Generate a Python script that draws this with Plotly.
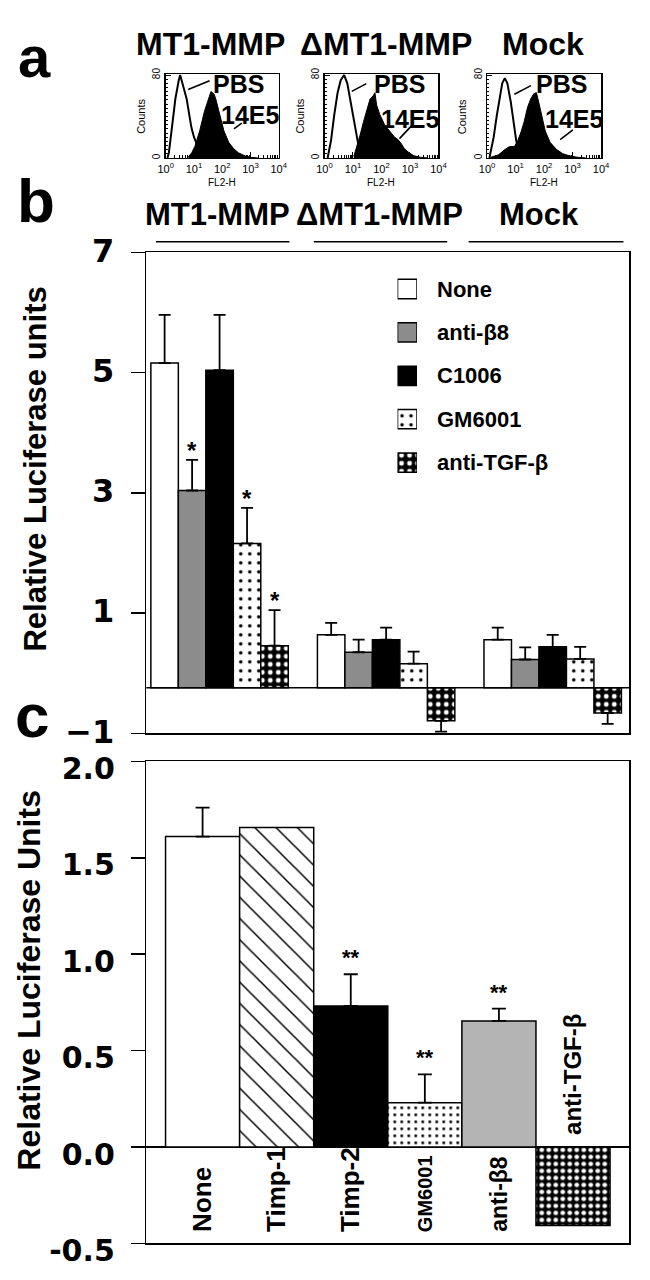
import numpy as np
import plotly.graph_objects as go

W, H = 650, 1280
def PX(x):
    return x / W
def PY(y):
    return 1 - y / H

SANS = "Liberation Sans, Arial, sans-serif"
WIDE = "DejaVu Sans, Verdana, sans-serif"

# ---------------- data: panel a (flow cytometry, log10 FL2-H vs counts) ----------------
HIST_TITLES = ["MT1-MMP", "ΔMT1-MMP", "Mock"]
H1_PBS_X = [0.06, 0.11, 0.23, 0.34, 0.46, 0.51, 0.57, 0.66, 0.74, 0.83, 0.91, 1.0, 1.09, 1.2, 1.3]
H1_PBS_Y = [0, 5, 32, 57, 75, 80, 74, 66, 57, 42, 29, 20, 14, 5, 0]
H1_AB_X = [0.80, 0.92, 1.03, 1.2, 1.37, 1.54, 1.60, 1.66, 1.72, 1.77, 1.91, 2.06, 2.23, 2.4, 2.57, 2.8, 3.03, 3.26]
H1_AB_Y = [1, 5, 11, 26, 45, 60, 64, 63, 61, 57, 42, 26, 15, 9, 5, 2, 0.5, 0]
H2_PBS_X = [0.11, 0.23, 0.34, 0.46, 0.57, 0.69, 0.8, 0.91, 1.03, 1.14, 1.2, 1.31]
H2_PBS_Y = [0, 17, 41, 63, 75, 80, 72, 54, 35, 20, 11, 1]
H2_AB_X = [1.03, 1.14, 1.26, 1.37, 1.49, 1.6, 1.71, 1.77, 1.83, 1.94, 2.11, 2.29, 2.46, 2.57, 2.69, 2.8, 2.97, 3.14, 3.37, 3.6]
H2_AB_Y = [1.5, 11, 23, 35, 48, 57, 60, 63, 51, 42, 32, 26, 20, 18, 14, 9, 5, 2, 0.6, 0]
H3_PBS_X = [0.08, 0.23, 0.34, 0.45, 0.53, 0.62, 0.71, 0.83, 0.94, 1.02, 1.1, 1.19]
H3_PBS_Y = [0, 20, 41, 60, 72, 77, 72, 54, 32, 17, 8, 1.5]
H3_AB_X = [0.11, 0.4, 0.62, 0.79, 0.96, 1.08, 1.19, 1.3, 1.42, 1.53, 1.64, 1.73, 1.81, 1.93, 2.04, 2.21, 2.44, 2.66, 2.89, 3.17, 3.46]
H3_AB_Y = [0.5, 3, 8, 11, 11, 17, 25, 35, 49, 57, 62, 63, 54, 38, 26, 15, 8, 4, 2, 0.6, 0]
HIST_XTICKS = [0, 1, 2, 3, 4]
HIST_XTICKTEXT = ["10<sup>0</sup>", "10<sup>1</sup>", "10<sup>2</sup>", "10<sup>3</sup>", "10<sup>4</sup>"]
HIST_YTICKS = [0, 80]

# ---------------- data: panel b ----------------
GROUPS_B = ["MT1-MMP", "ΔMT1-MMP", "Mock"]
TREAT_B = ["None", "anti-β8", "C1006", "GM6001", "anti-TGF-β"]
B_NONE = [5.16, 0.64, 0.56]
B_BETA8 = [3.04, 0.35, 0.23]
B_C1006 = [5.04, 0.56, 0.44]
B_GM6001 = [2.16, 0.16, 0.24]
B_TGF = [0.46, -0.79, -0.66]
B_NONE_ERR = [5.96, 0.84, 0.76]
B_BETA8_ERR = [3.55, 0.56, 0.43]
B_C1006_ERR = [5.96, 0.76, 0.64]
B_GM6001_ERR = [2.75, 0.36, 0.44]
B_TGF_ERR = [1.05, -0.97, -0.84]
B_STAR = [[False, False, False], [True, False, False], [False, False, False],
          [True, False, False], [True, False, False]]
B_BASELINE = -0.24
B_YTICKS = [7, 5, 3, 1, -1]

# ---------------- data: panel c ----------------
C_CATS = ["None", "Timp-1", "Timp-2", "GM6001", "anti-β8", "anti-TGF-β"]
C_VALS = [1.61, 1.657, 0.732, 0.23, 0.654, -0.407]
C_ERR = [1.76, None, 0.896, 0.377, 0.718, None]
C_STARS = ["", "", "**", "**", "**", ""]
C_YTICKS = [2.0, 1.5, 1.0, 0.5, 0.0, -0.5]

# ---------------- styles ----------------
B_STYLE = [
    dict(color="white", shape="", fg="black", bg="white", size=8, sol=0.2),
    dict(color="#8c8c8c", shape="", fg="black", bg="#8c8c8c", size=8, sol=0.2),
    dict(color="black", shape="", fg="black", bg="black", size=8, sol=0.2),
    dict(color="white", shape=".", fg="black", bg="white", size=9, sol=0.12),
    dict(color="black", shape=".", fg="white", bg="black", size=8, sol=0.3),
]
C_STYLE = [
    dict(color="white", shape="", fg="black", bg="white", size=8, sol=0.2),
    dict(color="white", shape="\\", fg="black", bg="white", size=15, sol=0.1),
    dict(color="black", shape="", fg="black", bg="black", size=8, sol=0.2),
    dict(color="white", shape=".", fg="black", bg="white", size=7, sol=0.13),
    dict(color="#b4b4b4", shape="", fg="black", bg="#b4b4b4", size=8, sol=0.2),
    dict(color="black", shape=".", fg="white", bg="black", size=7, sol=0.35),
]
C_LABEL_SIZE = [26, 26, 26, 20, 23, 24]


def bar_marker(st):
    return dict(color=st["color"], line=dict(color="black", width=1.5),
                pattern=dict(shape=st["shape"], fgcolor=st["fg"], bgcolor=st["bg"],
                             size=st["size"], solidity=st["sol"], fillmode="replace"))


fig = go.Figure()

# ---------- panel a traces ----------
hists = [(H1_PBS_X, H1_PBS_Y, H1_AB_X, H1_AB_Y),
         (H2_PBS_X, H2_PBS_Y, H2_AB_X, H2_AB_Y),
         (H3_PBS_X, H3_PBS_Y, H3_AB_X, H3_AB_Y)]
for i, (px_, py_, ax_, ay_) in enumerate(hists):
    n = i + 3
    fig.add_trace(go.Scatter(x=ax_, y=ay_, mode="lines", fill="tozeroy", fillcolor="black",
                             line=dict(color="black", width=1), xaxis=f"x{n}", yaxis=f"y{n}",
                             showlegend=False, hoverinfo="skip"))
    fig.add_trace(go.Scatter(x=px_, y=py_, mode="lines",
                             line=dict(color="black", width=2), xaxis=f"x{n}", yaxis=f"y{n}",
                             showlegend=False, hoverinfo="skip"))

# ---------- panel b traces ----------
BW = 0.165
b_tops = [B_NONE, B_BETA8, B_C1006, B_GM6001, B_TGF]
b_errs = [B_NONE_ERR, B_BETA8_ERR, B_C1006_ERR, B_GM6001_ERR, B_TGF_ERR]
for k, name in enumerate(TREAT_B):
    tops = b_tops[k]
    ends = b_errs[k]
    xs = [g + (k - 2) * BW for g in range(len(GROUPS_B))]
    ys = [t - B_BASELINE for t in tops]
    plus = [max(e - t, 0) if t >= B_BASELINE else 0 for t, e in zip(tops, ends)]
    minus = [0 if t >= B_BASELINE else max(t - e, 0) for t, e in zip(tops, ends)]
    fig.add_trace(go.Bar(
        x=xs, y=ys, base=B_BASELINE, width=BW, name=name,
        marker=bar_marker(B_STYLE[k]),
        error_y=dict(type="data", symmetric=False, array=plus, arrayminus=minus,
                     color="black", thickness=1.8, width=6),
        xaxis="x", yaxis="y", showlegend=False, hoverinfo="skip"))
    # legend swatch (drawn on its own small axis so it can be full size)
    fig.add_trace(go.Bar(
        y=[k], x=[1], base=0, orientation="h", width=20 / 45, name=name,
        marker=bar_marker(B_STYLE[k]),
        xaxis="x6", yaxis="y6", showlegend=False, hoverinfo="skip"))

# ---------- panel c traces ----------
for i, c in enumerate(C_CATS):
    kw = {}
    if C_ERR[i] is not None:
        kw["error_y"] = dict(type="data", symmetric=False, array=[C_ERR[i] - C_VALS[i]],
                             arrayminus=[0], color="black", thickness=1.8, width=7)
    fig.add_trace(go.Bar(
        x=[i], y=[C_VALS[i]], width=1.0, name=c, marker=bar_marker(C_STYLE[i]),
        xaxis="x2", yaxis="y2", showlegend=False, hoverinfo="skip", **kw))

annotations = []
shapes = []


def txt(x, y, s, size, bold=True, family=SANS, angle=0, xanchor="center", yanchor="middle",
        xref="paper", yref="paper", yshift=0):
    annotations.append(dict(x=x, y=y, text=s, xref=xref, yref=yref, showarrow=False,
                            textangle=angle, xanchor=xanchor, yanchor=yanchor, yshift=yshift,
                            font=dict(family=family, size=size, color="black",
                                      weight="bold" if bold else "normal")))


# panel letters
txt(PX(27), PY(1), "a", 58, yanchor="top")
txt(PX(29), PY(186), "b", 62)
txt(PX(25), PY(720), "c", 62)

# panel a titles and decorations
HIST_XD = [(162, 278), (325, 442), (492, 609)]
TITLE_A_X = [208, 388, 549]
PBS_POS = [(237, 65), (402, 65), (568, 65)]
AB_POS = [(249, 98), (413, 102), (581, 102)]
PBS_PTR = [((185, 71), (207, 62)), ((353, 73), (368, 65)), ((520, 76), (537, 67))]
AB_PTR = [((232, 112), (240, 106)), ((402, 122), (415, 108)), ((567, 123), (580, 113))]
for i in range(3):
    txt(PX(TITLE_A_X[i]), PY(24), HIST_TITLES[i], 32)
    txt(PX(PBS_POS[i][0]), PY(PBS_POS[i][1]), "PBS", 25)
    txt(PX(AB_POS[i][0]), PY(AB_POS[i][1]), "14E5", 25)
    x0, x1 = HIST_XD[i]
    txt(PX(x0 - 25), PY(99), "Counts", 11, bold=False, angle=-90)
    txt(PX((x0 + x1) / 2), PY(168), "FL2-H", 10, bold=False)
    for (p0, p1) in (PBS_PTR[i], AB_PTR[i]):
        shapes.append(dict(type="line", xref="paper", yref="paper", x0=PX(p0[0]), y0=PY(p0[1]),
                           x1=PX(p1[0]), y1=PY(p1[1]), line=dict(color="black", width=1.6)))

# panel b group labels and bars above
GROUP_LABEL_X = [215, 381, 545]
GROUP_LINE_X = [(152, 289), (314, 451), (473, 632)]
for i, g in enumerate(GROUPS_B):
    txt(PX(GROUP_LABEL_X[i]), PY(201), g, 31)
    shapes.append(dict(type="line", xref="paper", yref="paper", x0=PX(GROUP_LINE_X[i][0]),
                       x1=PX(GROUP_LINE_X[i][1]), y0=PY(229), y1=PY(229),
                       line=dict(color="black", width=1.5)))

# panel b baseline
shapes.append(dict(type="line", xref="x domain", yref="y", x0=0, x1=1, y0=B_BASELINE, y1=B_BASELINE,
                   line=dict(color="black", width=1.5)))

# panel b legend texts
for k, name in enumerate(TREAT_B):
    txt(PX(438), k, name, 22, xref="paper", yref="y6", xanchor="left")

# panel b stars
for k in range(len(TREAT_B)):
    for g in range(len(GROUPS_B)):
        if B_STAR[k][g]:
            txt(g + (k - 2) * BW, b_errs[k][g], "*", 24, xref="x", yref="y", yanchor="bottom", yshift=-6)

# panel c stars and category labels
for i, c in enumerate(C_CATS):
    if C_STARS[i]:
        txt(i, C_ERR[i], C_STARS[i], 22, xref="x2", yref="y2", yanchor="bottom", yshift=2)
    if C_VALS[i] >= 0:
        txt(i, -0.45, c, C_LABEL_SIZE[i], xref="x2", yref="y2", angle=-90, yanchor="bottom")
    else:
        txt(i, 0.05, c, C_LABEL_SIZE[i], xref="x2", yref="y2", angle=-90, yanchor="bottom")

# axis titles
txt(PX(28), PY(465), "Relative Luciferase units", 31, angle=-90)
txt(PX(22), PY(995), "Relative Luciferase Units", 32, angle=-90)

axis_common = dict(showgrid=False, zeroline=False, showline=True, linecolor="black", linewidth=1.5,
                   mirror=True)

layout = dict(
    width=W, height=H, margin=dict(l=0, r=0, t=0, b=0),
    paper_bgcolor="white", plot_bgcolor="white", barmode="overlay",
    font=dict(family=SANS, color="black"),
    showlegend=False,
    annotations=annotations, shapes=shapes,
    xaxis=dict(domain=[PX(142), PX(638)], range=[-0.44, 2.46], anchor="y", showticklabels=False,
               ticks="", **axis_common),
    yaxis=dict(domain=[PY(739), PY(240)], range=[-1, 7], anchor="x", tickmode="array",
               tickvals=B_YTICKS, ticks="outside", ticklen=14, tickwidth=1.5, tickcolor="black",
               ticklabelstandoff=10, ticklabelshift=-2,
               tickfont=dict(family=WIDE, size=32, weight="bold"), **axis_common),
    xaxis2=dict(domain=[PX(142), PX(638)], range=[-0.76, 5.76], anchor="y2", showticklabels=False,
                ticks="", **axis_common),
    yaxis2=dict(domain=[PY(1268), PY(768)], range=[-0.5, 2.0], anchor="x2", tickmode="array",
                tickvals=C_YTICKS, ticktext=[f"{v:.1f}" for v in C_YTICKS], ticks="outside",
                ticklen=14, tickwidth=1.5, tickcolor="black", ticklabelstandoff=10,
                ticklabelshift=7,
                tickfont=dict(family=WIDE, size=30, weight="bold"),
                showgrid=False, showline=True, linecolor="black", linewidth=1.5, mirror=True,
                zeroline=True, zerolinecolor="black", zerolinewidth=1.5),
    xaxis6=dict(domain=[PX(400), PX(420)], range=[0, 1], anchor="y6", visible=False),
    yaxis6=dict(domain=[PY(480.5), PY(255.5)], range=[4.5, -0.5], anchor="x6", visible=False),
)

minor_x = [float(np.log10(k * 10 ** n)) for n in range(4) for k in range(2, 10)]
for i in range(3):
    n = i + 3
    x0, x1 = HIST_XD[i]
    layout[f"xaxis{n}"] = dict(domain=[PX(x0), PX(x1)], range=[0, 4], anchor=f"y{n}",
                               tickmode="array", tickvals=HIST_XTICKS, ticktext=HIST_XTICKTEXT,
                               ticks="inside", ticklen=6, tickwidth=1, tickcolor="black",
                               tickfont=dict(family=SANS, size=11),
                               minor=dict(tickmode="array", tickvals=minor_x, ticks="inside",
                                          ticklen=3, tickcolor="black", tickwidth=1),
                               **axis_common)
    layout[f"yaxis{n}"] = dict(domain=[PY(142), PY(55)], range=[0, 81], anchor=f"x{n}",
                               tickmode="array", tickvals=HIST_YTICKS, ticks="inside", ticklen=5,
                               tickwidth=1, tickcolor="black", tickangle=-90,
                               tickfont=dict(family=SANS, size=10),
                               minor=dict(dtick=4, ticks="inside", ticklen=2, tickcolor="black"),
                               **axis_common)

fig.update_layout(**layout)
fig.write_html("out.html", config={"displayModeBar": False, "staticPlot": True},
               post_script="document.body.style.margin='0px';")
